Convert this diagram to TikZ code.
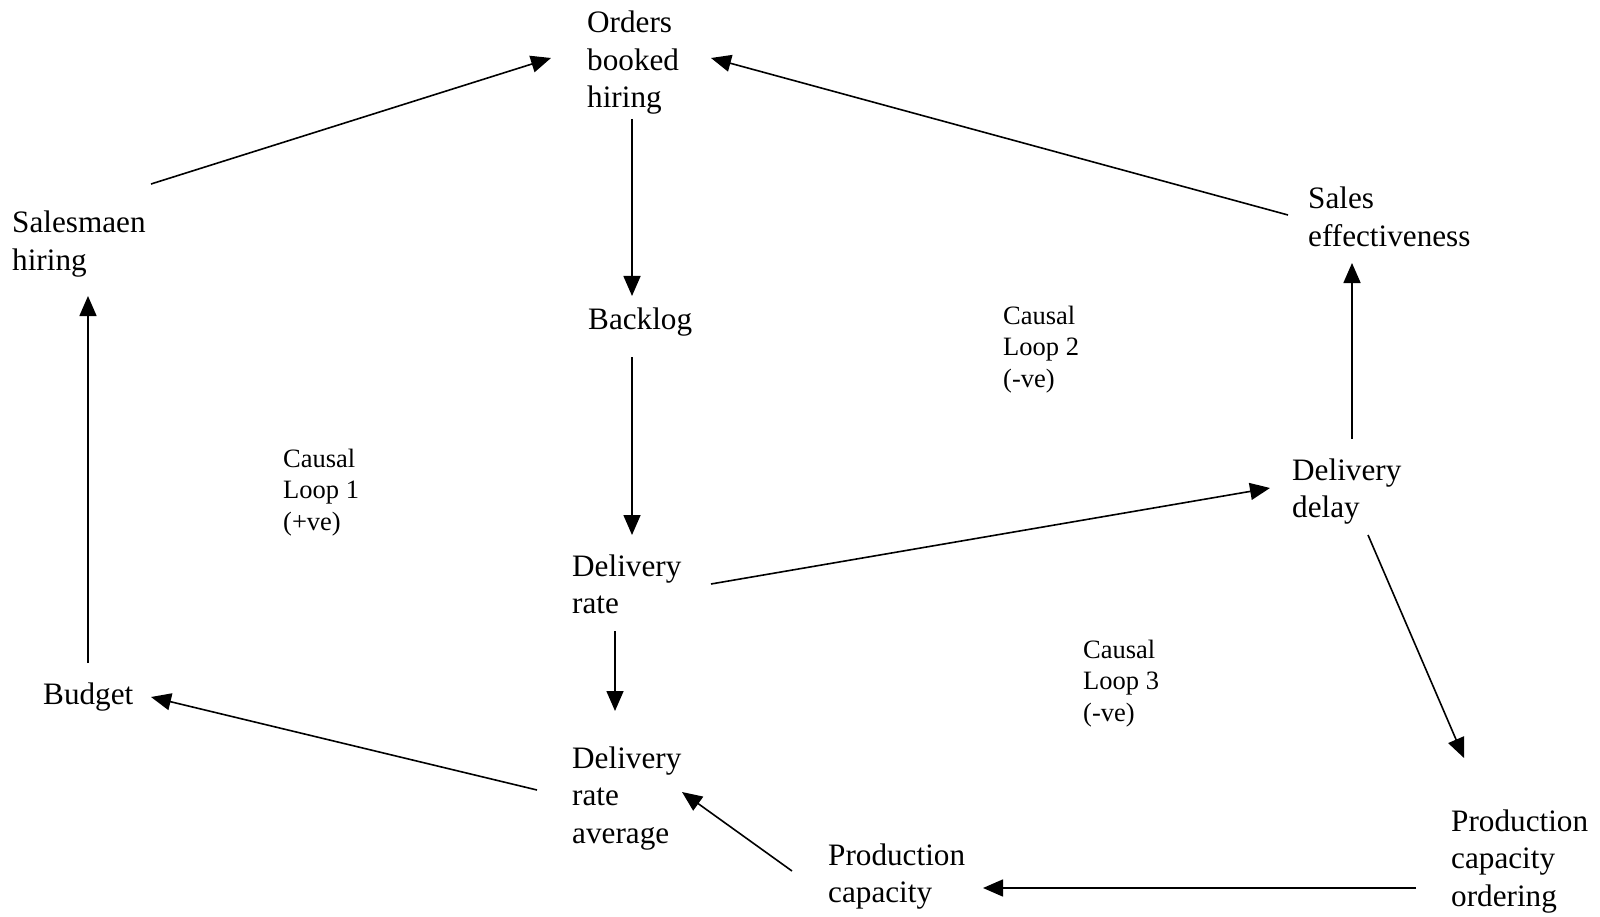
\documentclass[tikz,border=0pt]{standalone}
\usepackage{fontspec}
\setmainfont{Liberation Serif}
\usetikzlibrary{arrows.meta}

\newcommand{\lines}[1]{\begin{tabular}[t]{@{}l@{}}#1\end{tabular}}

\tikzset{
  var/.style={anchor=base west, inner sep=0pt, font=\fontsize{31.2}{37.5}\selectfont},
  loopnote/.style={anchor=base west, inner sep=0pt, font=\fontsize{26.5}{31.5}\selectfont},
  link/.style={-{Triangle[length=20pt,width=17pt]}, line width=1.6pt}
}

\begin{document}
\begin{tikzpicture}[x=1pt, y=-1pt]
  \useasboundingbox (0,0) rectangle (1600,917);

  % variables
  \node[var] (orders) at (587,33)   {\lines{Orders\\booked\\hiring}};
  \node[var] (sal)    at (12,233)   {\lines{Salesmaen\\hiring}};
  \node[var] (salesf) at (1308,209) {\lines{Sales\\effectiveness}};
  \node[var] (backlog) at (588,329) {Backlog};
  \node[var] (drate)  at (572,576)  {\lines{Delivery\\rate}};
  \node[var] (ddelay) at (1292,480) {\lines{Delivery\\delay}};
  \node[var] (budget) at (43,704)   {Budget};
  \node[var] (dravg)  at (572,768)  {\lines{Delivery\\rate\\average}};
  \node[var] (pcap)   at (828,865)  {\lines{Production\\capacity}};
  \node[var] (pco)    at (1451,831) {\lines{Production\\capacity\\ordering}};

  % loop annotations
  \node[loopnote] (loop1) at (283,467)  {\lines{Causal\\Loop 1\\(+ve)}};
  \node[loopnote] (loop2) at (1003,324) {\lines{Causal\\Loop 2\\(-ve)}};
  \node[loopnote] (loop3) at (1083,658) {\lines{Causal\\Loop 3\\(-ve)}};

  % causal links
  \draw[link] ([shift={(139,-49)}]sal.base west)    -- ([shift={(-36,25)}]orders.base west);
  \draw[link] ([shift={(-20,6)}]salesf.base west)   -- ([shift={(124,25)}]orders.base west);
  \draw[link] ([shift={(45,86)}]orders.base west)   -- ([shift={(44,-33)}]backlog.base west);
  \draw[link] ([shift={(44,28)}]backlog.base west)  -- ([shift={(60,-41)}]drate.base west);
  \draw[link] ([shift={(43,55)}]drate.base west)    -- ([shift={(43,-57)}]dravg.base west);
  \draw[link] ([shift={(139,8)}]drate.base west)    -- ([shift={(-22,8)}]ddelay.base west);
  \draw[link] ([shift={(60,-41)}]ddelay.base west)  -- ([shift={(44,54)}]salesf.base west);
  \draw[link] ([shift={(76,55)}]ddelay.base west)   -- ([shift={(13,-73)}]pco.base west);
  \draw[link] ([shift={(-35,57)}]pco.base west)     -- ([shift={(155,23)}]pcap.base west);
  \draw[link] ([shift={(-36,6)}]pcap.base west)     -- ([shift={(110,24)}]dravg.base west);
  \draw[link] ([shift={(-35,22)}]dravg.base west)   -- ([shift={(108,-7)}]budget.base west);
  \draw[link] ([shift={(45,-41)}]budget.base west)  -- ([shift={(76,63)}]sal.base west);
\end{tikzpicture}
\end{document}
